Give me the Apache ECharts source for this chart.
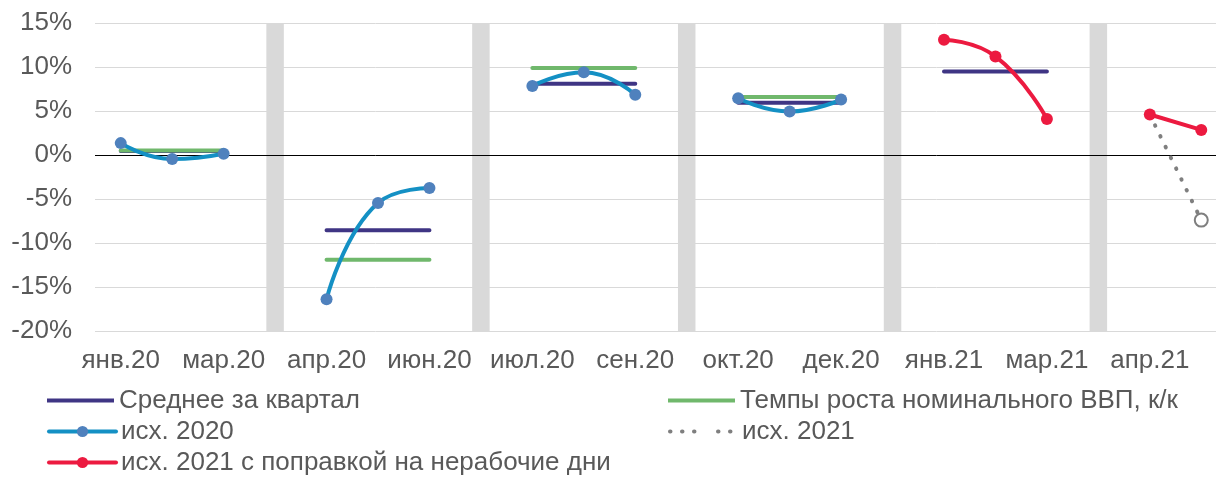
<!DOCTYPE html>
<html>
<head>
<meta charset="utf-8">
<script src="https://cdn.jsdelivr.net/npm/echarts@6/dist/echarts.min.js"></script>
<style>
  html, body { margin: 0; padding: 0; background: #fff; }
  #chart { width: 1216px; height: 477px; }
</style>
</head>
<body>
<div id="chart"></div>
<script>
// Months, with an empty slot between quarters (drawn as a grey separator)
const categories = [
  'янв.20', 'фев.20', 'мар.20', '',
  'апр.20', 'май.20', 'июн.20', '',
  'июл.20', 'авг.20', 'сен.20', '',
  'окт.20', 'ноя.20', 'дек.20', '',
  'янв.21', 'фев.21', 'мар.21', '',
  'апр.21', 'май.21'
];

// Quarterly average (drawn across the three months of each quarter)
const quarterAverage = [
  0.45, 0.45, 0.45, null,
  -8.55, -8.55, -8.55, null,
  8.1, 8.1, 8.1, null,
  5.95, 5.95, 5.95, null,
  9.5, 9.5, 9.5, null,
  null, null
];

// Nominal GDP growth, q/q
const nominalGdpGrowth = [
  0.5, 0.5, 0.5, null,
  -11.9, -11.9, -11.9, null,
  9.9, 9.9, 9.9, null,
  6.6, 6.6, 6.6, null,
  null, null, null, null,
  null, null
];

// Source series 2020
const src2020 = [
  1.35, -0.45, 0.15, null,
  -16.4, -5.45, -3.75, null,
  7.85, 9.4, 6.85, null,
  6.45, 4.95, 6.3, null,
  null, null, null, null,
  null, null
];

// Source series 2021
const src2021 = [
  null, null, null, null,
  null, null, null, null,
  null, null, null, null,
  null, null, null, null,
  null, null, null, null,
  4.6, -7.4
];

// Source series 2021, adjusted for non-working days
const src2021Adjusted = [
  null, null, null, null,
  null, null, null, null,
  null, null, null, null,
  null, null, null, null,
  13.1, 11.2, 4.1, null,
  4.6, 2.85
];

// Quarter separators: full-height grey bars in the empty slots
const separatorTop = categories.map(c => c === '' ? 15 : null);
const separatorBottom = categories.map(c => c === '' ? -20 : null);

const yTicks = { min: -20, max: 15, interval: 5 };

const textColor = '#595959';
const font = 'Liberation Sans, Arial, sans-serif';
const FS = 26;

const NAME_AVG = 'Среднее за квартал';
const NAME_GDP = 'Темпы роста номинального ВВП, к/к';
const NAME_2020 = 'исх. 2020';
const NAME_2021 = 'исх. 2021';
const NAME_2021A = 'исх. 2021 с поправкой на нерабочие дни';

// One legend block per entry, laid out in two columns
function legendItem(left, top, entry, extra) {
  return Object.assign({
    left: left, top: top, orient: 'horizontal', padding: 0, itemGap: 0,
    itemWidth: 67, itemHeight: 14,
    lineStyle: { width: 4 },
    textStyle: { color: textColor, fontFamily: font, fontSize: FS, lineHeight: 31 },
    data: [entry]
  }, extra || {});
}

const chart = echarts.init(document.getElementById('chart'), null, { renderer: 'canvas' });

chart.setOption({
  animation: false,
  backgroundColor: '#ffffff',
  grid: { left: 95, right: -11, top: 23, bottom: 146, containLabel: false, outerBoundsMode: 'none' },
  xAxis: {
    type: 'category',
    data: categories,
    boundaryGap: true,
    axisLine: { show: false },
    axisTick: { show: false },
    splitLine: { show: false },
    axisLabel: {
      interval: 1,
      color: textColor,
      fontFamily: font,
      fontSize: FS,
      margin: 17
    }
  },
  yAxis: {
    type: 'value',
    min: yTicks.min,
    max: yTicks.max,
    interval: yTicks.interval,
    axisLine: { show: false },
    axisTick: { show: false },
    splitLine: { show: true, lineStyle: { color: '#d9d9d9', width: 1 } },
    axisLabel: {
      formatter: '{value}%',
      color: textColor,
      fontFamily: font,
      fontSize: FS,
      margin: 23
    }
  },
  legend: [
    legendItem(47, 385, { name: NAME_AVG, icon: 'rect' }, { itemHeight: 4 }),
    legendItem(668, 385, { name: NAME_GDP, icon: 'rect' }, { itemHeight: 4 }),
    legendItem(47, 416, NAME_2020),
    legendItem(668, 416, { name: NAME_2021, itemStyle: { color: '#ffffff', borderColor: '#ffffff' } }),
    legendItem(47, 447, NAME_2021A)
  ],
  series: [
    {
      name: 'sep-top', type: 'bar', data: separatorTop, barWidth: 17.5, barGap: '-100%',
      itemStyle: { color: '#d9d9d9' }, silent: true, z: 1,
      markLine: {
        silent: true, symbol: 'none', z: 3,
        label: { show: false },
        lineStyle: { color: '#000000', width: 1, type: 'solid' },
        data: [{ yAxis: 0 }]
      }
    },
    {
      name: 'sep-bottom', type: 'bar', data: separatorBottom, barWidth: 17.5, barGap: '-100%',
      itemStyle: { color: '#d9d9d9' }, silent: true, z: 1
    },
    {
      name: NAME_AVG, type: 'line', data: quarterAverage, z: 4,
      symbol: 'none', connectNulls: false,
      itemStyle: { color: '#3f3584' },
      lineStyle: { color: '#3f3584', width: 4, cap: 'round' }
    },
    {
      name: NAME_GDP, type: 'line', data: nominalGdpGrowth, z: 4,
      symbol: 'none', connectNulls: false,
      itemStyle: { color: '#70b86c' },
      lineStyle: { color: '#70b86c', width: 4, cap: 'round' }
    },
    {
      name: NAME_2020, type: 'line', data: src2020, z: 5,
      smooth: 0.5, symbol: 'circle', symbolSize: 12, showSymbol: true, connectNulls: false,
      itemStyle: { color: '#4f81bd' },
      lineStyle: { color: '#1490c4', width: 4, cap: 'round' }
    },
    {
      name: NAME_2021, type: 'line', z: 5,
      data: src2021.map((v, i) => (i === 20 ? { value: v, symbol: 'none' } : v)),
      symbol: 'emptyCircle', symbolSize: 13, showSymbol: true, connectNulls: false,
      itemStyle: { color: '#7f7f7f', borderWidth: 1.5 },
      lineStyle: { color: '#7f7f7f', width: 4, type: [0.5, 11.5], cap: 'round' }
    },
    {
      name: NAME_2021A, type: 'line', data: src2021Adjusted, z: 6,
      smooth: 0.5, symbol: 'circle', symbolSize: 12, showSymbol: true, connectNulls: false,
      itemStyle: { color: '#ec1a40' },
      lineStyle: { color: '#ec1a40', width: 4, cap: 'round' }
    }
  ]
});
</script>
</body>
</html>
